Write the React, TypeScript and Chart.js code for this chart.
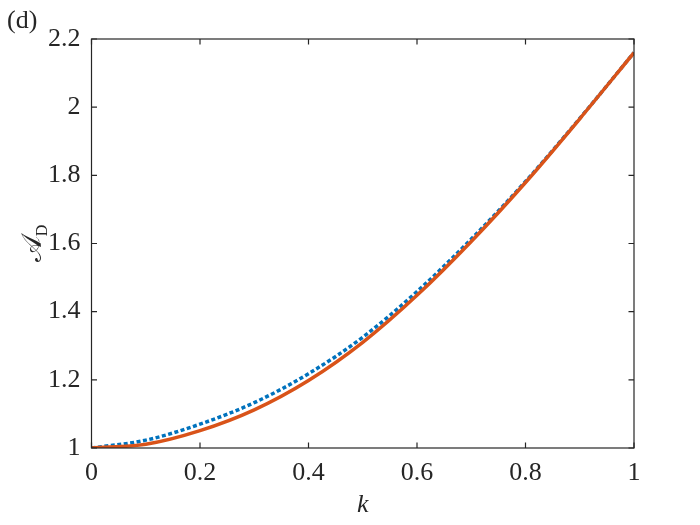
import React, { useEffect, useRef } from "react";
import { Chart, registerables } from "chart.js";

Chart.register(...registerables);

const kValues = [0, 0.1, 0.2, 0.3, 0.4, 0.5, 0.6, 0.7, 0.8, 0.9, 1.0];
const blueSeries = [1.0, 1.023, 1.07, 1.133, 1.218, 1.325, 1.459, 1.613, 1.782, 1.967, 2.16];
const orangeSeries = [1.0, 1.011, 1.051, 1.112, 1.198, 1.31, 1.448, 1.606, 1.779, 1.966, 2.16];
const xTicks = [0, 0.2, 0.4, 0.6, 0.8, 1];
const yTicks = [1, 1.2, 1.4, 1.6, 1.8, 2, 2.2];

const AXIS_COLOR = "#262626";
const FONT = "'Liberation Serif', 'DejaVu Serif', serif";

const fmt = (v: number) => String(Number(v.toFixed(1)));

const boxPlugin = {
  id: "matlabBox",
  afterDraw(chart: any) {
    const { ctx, chartArea } = chart;
    const { left, right, top, bottom } = chartArea;
    const xs = chart.scales.x;
    const ys = chart.scales.y;
    ctx.save();
    ctx.strokeStyle = AXIS_COLOR;
    ctx.lineWidth = 1.2;
    ctx.strokeRect(left, top, right - left, bottom - top);
    const tl = 5.5;
    ctx.beginPath();
    xTicks.forEach((v) => {
      const px = xs.getPixelForValue(v);
      ctx.moveTo(px, bottom);
      ctx.lineTo(px, bottom - tl);
      ctx.moveTo(px, top);
      ctx.lineTo(px, top + tl);
    });
    yTicks.forEach((v) => {
      const py = ys.getPixelForValue(v);
      ctx.moveTo(left, py);
      ctx.lineTo(left + tl, py);
      ctx.moveTo(right, py);
      ctx.lineTo(right - tl, py);
    });
    ctx.stroke();

    ctx.fillStyle = AXIS_COLOR;
    ctx.font = `26px ${FONT}`;
    ctx.textAlign = "left";
    ctx.textBaseline = "middle";
    ctx.fillText("(d)", 7, 21);

    ctx.font = `italic 26px ${FONT}`;
    ctx.textAlign = "center";
    ctx.fillText("k", (left + right) / 2, 505);

    ctx.translate(32, (top + bottom) / 2);
    ctx.rotate(-Math.PI / 2);
    ctx.font = `28px ${FONT}`;
    ctx.textAlign = "left";
    ctx.textBaseline = "alphabetic";
    const aW = ctx.measureText("𝒜").width;
    const sub = "D";
    ctx.font = `16px ${FONT}`;
    const dW = ctx.measureText(sub).width;
    const total = aW + dW;
    ctx.font = `28px ${FONT}`;
    ctx.fillText("𝒜", -total / 2, 9);
    ctx.font = `16px ${FONT}`;
    ctx.fillText(sub, -total / 2 + aW, 15);
    ctx.restore();
  },
};

export default function App() {
  const ref = useRef<HTMLCanvasElement>(null);
  useEffect(() => {
    if (!ref.current) return;
    const chart = new Chart(ref.current, {
      type: "line",
      data: {
        datasets: [
          {
            label: "orange",
            data: kValues.map((k, i) => ({ x: k, y: orangeSeries[i] })),
            borderColor: "#D95319",
            borderWidth: 3.5,
            pointRadius: 0,
            cubicInterpolationMode: "monotone",
            order: 0,
          },
          {
            label: "blue",
            data: kValues.map((k, i) => ({ x: k, y: blueSeries[i] })),
            borderColor: "#0072BD",
            borderWidth: 3.5,
            borderDash: [4, 2.5],
            pointRadius: 0,
            cubicInterpolationMode: "monotone",
            order: 1,
          },
        ],
      },
      options: {
        responsive: false,
        animation: false,
        layout: { padding: { top: 39, right: 66, left: 0, bottom: 0 } },
        plugins: { legend: { display: false }, tooltip: { enabled: false } },
        scales: {
          x: {
            type: "linear",
            min: 0,
            max: 1,
            afterFit: (s: any) => {
              s.height = 77;
            },
            afterBuildTicks: (s: any) => {
              s.ticks = xTicks.map((v) => ({ value: v }));
            },
            grid: { display: false, drawTicks: false },
            border: { display: false },
            ticks: {
              padding: 10,
              maxRotation: 0,
              autoSkip: false,
              color: AXIS_COLOR,
              font: { family: FONT, size: 26 },
              callback: (v: any) => fmt(Number(v)),
            },
          },
          y: {
            type: "linear",
            min: 1,
            max: 2.2,
            afterFit: (s: any) => {
              s.width = 91.5;
            },
            afterBuildTicks: (s: any) => {
              s.ticks = yTicks.map((v) => ({ value: v }));
            },
            grid: { display: false, drawTicks: false },
            border: { display: false },
            ticks: {
              padding: 11,
              autoSkip: false,
              color: AXIS_COLOR,
              font: { family: FONT, size: 26 },
              callback: (v: any) => fmt(Number(v)),
            },
          },
        },
      },
      plugins: [boxPlugin],
    } as any);
    return () => chart.destroy();
  }, []);
  return (
    <div style={{ position: "fixed", left: 0, top: 0, width: 700, height: 525, background: "#fff" }}>
      <canvas ref={ref} width={700} height={525} style={{ width: 700, height: 525, display: "block" }} />
    </div>
  );
}
